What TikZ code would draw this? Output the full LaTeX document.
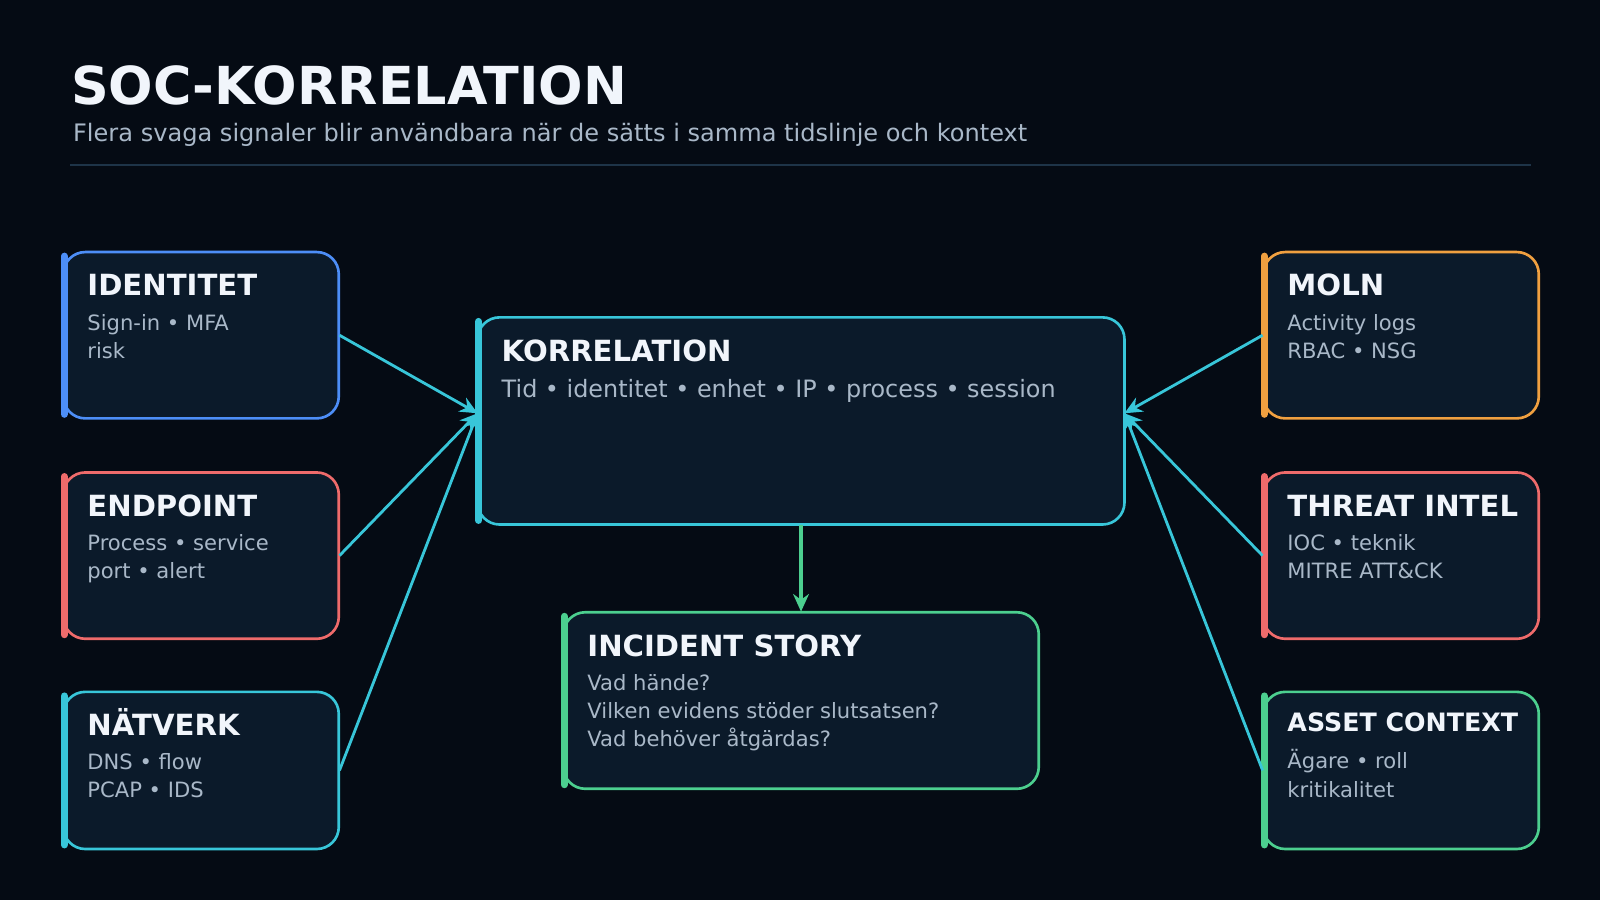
\documentclass[tikz,border=0pt]{standalone}
\usepackage{fontspec}
\setmainfont{DejaVu Sans}
\usetikzlibrary{arrows.meta}
\definecolor{bg}{HTML}{050B14}
\definecolor{card}{HTML}{0B1A2A}
\definecolor{cblue}{HTML}{4D8EF7}
\definecolor{cred}{HTML}{EF6B6B}
\definecolor{ccyan}{HTML}{38C6D9}
\definecolor{corange}{HTML}{F0A040}
\definecolor{cgreen}{HTML}{4CCF8F}
\definecolor{ttl}{HTML}{F1F5FB}
\definecolor{bdy}{HTML}{A9B8C8}
\definecolor{rule}{HTML}{1E3448}
\tikzset{
 box/.style={draw=#1, line width=0.75pt, fill=card, rounded corners=2.2mm},
 bar/.style={draw=#1, line width=2pt, line cap=round},
 htitle/.style={anchor=base west, inner sep=0, text=ttl, font=\fontsize{8.3}{10}\selectfont\bfseries},
 hbody/.style={anchor=north west, inner sep=0, text=bdy, align=left, font=\fontsize{6.0}{8}\selectfont},
 conn/.style={draw=ccyan, line width=0.8pt, -{Stealth[length=5pt,width=4.5pt]}},
}
\newcommand\card[8]{% name, x1,y1,x2,y2, color, title, body
 \path[box=#6] (#2,#3) rectangle (#4,#5);
 \node[inner sep=0, minimum width={(#4-#2)*0.010204cm}, minimum height={(#5-#3)*0.010204cm}] (#1) at ({(#2+#4)/2},{(#3+#5)/2}) {};
 \draw[bar=#6] (#2+1,#3+4) -- (#2+1,#5-4);
 \node[htitle] (#1t) at (#2+23,#3+43) {#7};
 \node[hbody] (#1b) at (#2+23,#3+60) {#8};
}
\begin{document}
\begin{tikzpicture}[x=0.010204cm,y=-0.010204cm]
\fill[bg] (0,0) rectangle (1568,882);
\useasboundingbox (0,0) rectangle (1568,882);
\node[anchor=base west, inner sep=0, text=ttl, font=\fontsize{14.9}{18}\selectfont\bfseries] (title) at (69,102) {SOC-KORRELATION};
\node[anchor=base west, inner sep=0, text=bdy, font=\fontsize{6.85}{8}\selectfont] (sub) at (71,139) {Flera svaga signaler blir användbara när de sätts i samma tidslinje och kontext};
\coordinate (r1) at (69,162); \coordinate (r2) at (1500,162);
\draw[rule, line width=0.5pt] (r1) -- (r2);

\card{id}{62}{247}{332}{410}{cblue}{IDENTITET}{Sign-in • MFA\\risk}
\card{ep}{62}{463}{332}{626}{cred}{ENDPOINT}{Process • service\\port • alert}
\card{nw}{62}{678}{332}{832}{ccyan}{NÄTVERK}{DNS • flow\\PCAP • IDS}
\card{mo}{1238}{247}{1508}{410}{corange}{MOLN}{Activity logs\\RBAC • NSG}
\card{ti}{1238}{463}{1508}{626}{cred}{THREAT INTEL}{IOC • teknik\\MITRE ATT\&CK}
\path[box=cgreen] (1238,678) rectangle (1508,832);
\node[inner sep=0, minimum width=2.755cm, minimum height=1.571cm] (as) at (1373,755) {};
\draw[bar=cgreen] (1239,682) -- (1239,828);
\node[htitle, font=\fontsize{7.2}{9}\selectfont\bfseries] (ast) at (1261,717) {ASSET CONTEXT};
\node[hbody] (asb) at (1261,734) {Ägare • roll\\kritikalitet};

\card{ko}{468}{311}{1102}{514}{ccyan}{KORRELATION}{}
\node[anchor=base west, inner sep=0, text=bdy, font=\fontsize{6.8}{9}\selectfont] (kob) at (491,390) {Tid • identitet • enhet • IP • process • session};
\path[box=cgreen] (552,600) rectangle (1018,773);
\node[inner sep=0, minimum width=4.755cm, minimum height=1.765cm] (inc) at (785,686.5) {};
\draw[bar=cgreen] (553,604) -- (553,769);
\node[htitle] (inct) at (575,643) {INCIDENT STORY};
\node[hbody] (incb) at (575,660) {Vad hände?\\Vilken evidens stöder slutsatsen?\\Vad behöver åtgärdas?};

\coordinate (kl) at (468,405);
\coordinate (kr) at (1102,405);
\draw[conn] (id.east) -- (kl);
\draw[conn] (ep.east) -- (kl);
\draw[conn] (nw.east) -- (kl);
\draw[conn] (mo.west) -- (kr);
\draw[conn] (ti.west) -- (kr);
\draw[conn] (as.west) -- (kr);
\draw[conn, draw=cgreen, line width=1pt] (ko.south) -- (inc.north);
\end{tikzpicture}
\end{document}
